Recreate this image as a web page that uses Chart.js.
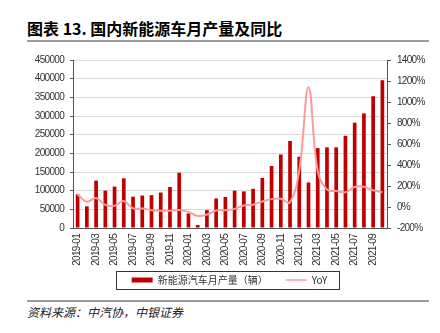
<!DOCTYPE html>
<html>
<head>
<meta charset="utf-8">
<script src="https://cdn.jsdelivr.net/npm/chart.js@4/dist/chart.umd.min.js"></script>
<style>
  html, body { margin: 0; padding: 0; background: #fff; }
  body { width: 440px; height: 333px; position: relative; overflow: hidden; }
  #title { position: absolute; left: 27px; top: 16px; font: bold 16px/24px 'Noto Sans CJK SC', sans-serif; color: #000; white-space: nowrap; }
  .rule { position: absolute; left: 27px; width: 402px; height: 2px; background: #9b9b9b; }
  #source { position: absolute; left: 27px; top: 304px; font: italic 12px/16px 'Noto Sans CJK SC', sans-serif; color: #222; white-space: nowrap; }
  #wrap { position: absolute; left: 0; top: 48px; width: 440px; height: 247px; }
</style>
</head>
<body>
<div id="title">图表 13. 国内新能源车月产量及同比</div>
<div class="rule" style="top:40px"></div>
<div id="wrap"><canvas id="c"></canvas></div>
<div class="rule" style="top:300px"></div>
<div id="source">资料来源：中汽协，中银证券</div>
<script>
const months = [
  '2019-01','2019-02','2019-03','2019-04','2019-05','2019-06','2019-07','2019-08','2019-09','2019-10','2019-11','2019-12',
  '2020-01','2020-02','2020-03','2020-04','2020-05','2020-06','2020-07','2020-08','2020-09','2020-10','2020-11','2020-12',
  '2021-01','2021-02','2021-03','2021-04','2021-05','2021-06','2021-07','2021-08','2021-09','2021-10'
];
const production = [
  90000, 58000, 127000, 100000, 111000, 133000, 84000, 87000, 88000, 95000, 110000, 148000,
  39000, 8000, 48000, 79000, 83000, 100000, 98000, 105000, 134000, 166000, 197000, 233000,
  191000, 122000, 214000, 216000, 216000, 247000, 282000, 307000, 353000, 396000
];
const yoy = [
  120, 50, 86, 20, 12, 57, -13, -15, -30, -35, -35, -28,
  -48, -85, -72, -33, -30, -18, 15, 22, 53, 75, 78, 45,
  350, 1140, 340, 165, 153, 140, 190, 193, 160, 140
];
const leftTicks = { min: 0, max: 450000, step: 50000 };
const rightTicks = { min: -200, max: 1400, step: 200 };
const seriesNames = ['新能源汽车月产量（辆）', 'YoY'];

const barColor = '#c00000';
const lineColor = '#ff9a9a';
const tickFont = { family: "'Liberation Sans', Arial, sans-serif", size: 10 };

// narrow the tick labels a little (reference uses a condensed face) and never clip them
function tuneScale(scale, noClip) {
  if (scale.__tuned) return;
  scale.__tuned = true;
  const orig = scale.drawLabels;
  scale.drawLabels = function (area) {
    const ctx = this.ctx;
    ctx.save();
    ctx.letterSpacing = '-0.7px';
    orig.call(this, area);
    ctx.restore();
  };
  if (noClip) scale._computeLabelArea = function () { return undefined; };
}

const legendBorder = {
  id: 'legendBorder',
  afterDraw(chart) {
    const hb = chart.legend && chart.legend.legendHitBoxes;
    if (!hb || !hb.length) return;
    const first = hb[0], last = hb[hb.length - 1];
    const l = Math.round(first.left - 16) + 0.5;
    const r = Math.round(last.left + last.width + 12) + 0.5;
    const t = Math.round(first.top - 4) + 0.5;
    const b = Math.round(first.top + first.height + 4) + 0.5;
    const ctx = chart.ctx;
    ctx.save();
    ctx.strokeStyle = '#333';
    ctx.lineWidth = 1;
    ctx.strokeRect(l, t, r - l, b - t);
    ctx.restore();
  }
};

new Chart(document.getElementById('c'), {
  data: {
    labels: months,
    datasets: [
      {
        type: 'bar', label: seriesNames[0], data: production, yAxisID: 'y',
        backgroundColor: barColor, borderWidth: 0,
        barPercentage: 0.4, categoryPercentage: 1.0, order: 1
      },
      {
        type: 'line', label: seriesNames[1], data: yoy, yAxisID: 'y1',
        borderColor: lineColor, backgroundColor: lineColor, borderWidth: 2,
        pointRadius: 0, pointHoverRadius: 0, tension: 0.4, fill: false, order: 0
      }
    ]
  },
  options: {
    responsive: true,
    maintainAspectRatio: false,
    animation: false,
    layout: { padding: { left: 30, right: 11, top: 12, bottom: 0 } },
    plugins: {
      tooltip: { enabled: false },
      legend: {
        position: 'bottom',
        labels: {
          usePointStyle: true,
          pointStyleWidth: 21,
          boxHeight: 5,
          padding: 18,
          color: '#333',
          font: { family: "'Noto Sans CJK SC', sans-serif", size: 10 },
          generateLabels(chart) {
            const items = Chart.defaults.plugins.legend.labels.generateLabels(chart);
            items.forEach(it => {
              if (it.datasetIndex === 0) {
                it.pointStyle = 'rect'; it.lineWidth = 0; it.fillStyle = barColor; it.strokeStyle = barColor;
              } else {
                it.pointStyle = 'line'; it.lineWidth = 1.5; it.strokeStyle = lineColor; it.fillStyle = lineColor;
              }
            });
            return items.sort((a, b) => a.datasetIndex - b.datasetIndex);
          }
        }
      }
    },
    scales: {
      x: {
        grid: { display: false, drawTicks: false, tickLength: 0 },
        border: { display: true, color: '#555', width: 1 },
        ticks: {
          autoSkip: false, maxRotation: 90, minRotation: 90, padding: 6,
          color: '#333', font: tickFont,
          callback(value, index) { return index % 2 === 0 ? this.getLabelForValue(value) : ''; }
        },
        afterFit(scale) { scale.height = 29; tuneScale(scale, true); }
      },
      y: {
        position: 'left',
        min: leftTicks.min, max: leftTicks.max,
        grid: { color: '#d9d9d9', lineWidth: 1, tickLength: 3, tickColor: '#555' },
        border: { display: true, color: '#555', width: 1 },
        ticks: { stepSize: leftTicks.step, padding: 6, color: '#333', font: tickFont, callback: v => String(v) },
        afterFit(scale) { scale.width = 43; tuneScale(scale, true); }
      },
      y1: {
        position: 'right',
        min: rightTicks.min, max: rightTicks.max,
        grid: { drawOnChartArea: false, tickLength: 4, tickColor: '#555' },
        border: { display: true, color: '#555', width: 1 },
        ticks: { stepSize: rightTicks.step, padding: 6, color: '#333', font: tickFont, callback: v => v + '%' },
        afterFit(scale) { scale.width = 42; tuneScale(scale, true); }
      }
    }
  },
  plugins: [legendBorder]
});
</script>
</body>
</html>
